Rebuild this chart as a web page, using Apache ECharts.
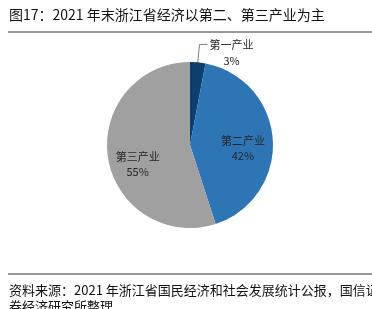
<!DOCTYPE html>
<html>
<head>
<meta charset="utf-8">
<script src="https://cdn.jsdelivr.net/npm/echarts@6/dist/echarts.min.js"></script>
<style>
html,body{margin:0;padding:0;background:#fff;}
#c{width:372px;height:309px;}
</style>
</head>
<body>
<div id="c"></div>
<script>
const categories = ['第一产业', '第二产业', '第三产业'];
const shares = [3, 42, 55];
const titleText = '图17：2021 年末浙江省经济以第二、第三产业为主';
const sourceLine1 = '资料来源：2021 年浙江省国民经济和社会发展统计公报，国信证';
const sourceLine2 = '券经济研究所整理';

const colors = ['#0d3f6e', '#2e75b6', '#a0a0a0'];
const labelOffsets = [[0, 0], [-2, 7], [2, 11]];
const FONT = '"Noto Sans CJK SC", "Noto Sans", sans-serif';

const chart = echarts.init(document.getElementById('c'), null, {renderer: 'canvas'});

const mainData = categories.map((c, i) => ({
  name: c,
  value: shares[i],
  itemStyle: {color: colors[i]},
  label: i === 0 ? {
    show: true,
    position: 'outside',
    offset: [-4, 8],
    formatter: '{a|{b}}\n{a|{d}%}',
    rich: {a: {width: 46, align: 'center', fontSize: 11, lineHeight: 16, color: '#262626', fontFamily: FONT}}
  } : {show: false},
  labelLine: i === 0 ? {show: true, length: 18, length2: 8, lineStyle: {color: '#808080', width: 1}} : {show: false}
}));

const labelData = categories.map((c, i) => ({
  name: c,
  value: shares[i],
  itemStyle: {color: 'rgba(0,0,0,0)'},
  label: {show: i !== 0, offset: labelOffsets[i]}
}));

chart.setOption({
  animation: false,
  backgroundColor: '#fff',
  series: [
    {
      type: 'pie',
      center: [190, 145],
      radius: [0, 83],
      startAngle: 90,
      clockwise: true,
      avoidLabelOverlap: false,
      data: mainData,
      itemStyle: {borderWidth: 0},
      emphasis: {disabled: true}
    },
    {
      type: 'pie',
      center: [190, 145],
      radius: [21, 83],
      startAngle: 90,
      clockwise: true,
      silent: true,
      avoidLabelOverlap: false,
      data: labelData,
      label: {
        position: 'inside',
        formatter: '{b}\n{d}%',
        fontSize: 11,
        lineHeight: 15,
        color: '#262626',
        fontFamily: FONT
      },
      labelLine: {show: false},
      emphasis: {disabled: true}
    }
  ],
  graphic: [
    {type: 'text', left: 9, top: 8, style: {text: titleText, font: '14px ' + FONT, fill: '#111'}},
    {type: 'line', shape: {x1: 8, y1: 32, x2: 372, y2: 32}, style: {stroke: '#333', lineWidth: 1}},
    {type: 'line', shape: {x1: 8, y1: 274, x2: 372, y2: 274}, style: {stroke: '#333', lineWidth: 1}},
    {type: 'text', left: 9, top: 284, style: {text: sourceLine1, font: '13px ' + FONT, fill: '#111'}},
    {type: 'text', left: 9, top: 300, style: {text: sourceLine2, font: '13px ' + FONT, fill: '#111'}}
  ]
});
</script>
</body>
</html>
